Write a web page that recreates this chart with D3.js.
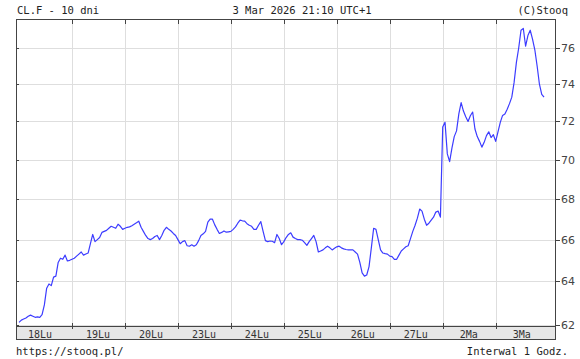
<!DOCTYPE html>
<html>
<head>
<meta charset="utf-8">
<script src="https://cdn.jsdelivr.net/npm/d3@7"></script>
<style>
  body { margin: 0; background: #fff; }
  svg { display: block; }
</style>
</head>
<body>
<div id="container"></div>
<script>
// ------ Data ------
const dayLabels = ['18Lu', '19Lu', '20Lu', '23Lu', '24Lu', '25Lu', '26Lu', '27Lu', '2Ma', '3Ma'];
const yTicks = [62, 64, 66, 68, 70, 72, 74, 76];

// hourly closes, one row per session
const day1 = [62.1, 62.2, 62.25, 62.3, 62.38, 62.43, 62.38, 62.33, 62.35, 62.33, 62.45, 62.9, 63.68, 63.88, 63.8, 64.2, 64.25, 64.9, 65.1, 65.05, 65.25, 64.97, 65.0];
const day2 = [65.05, 65.1, 65.2, 65.3, 65.4, 65.25, 65.3, 65.35, 65.8, 66.25, 65.9, 66.0, 66.1, 66.35, 66.4, 66.45, 66.55, 66.65, 66.6, 66.55, 66.75, 66.65, 66.5];
const day3 = [66.55, 66.6, 66.62, 66.68, 66.75, 66.82, 66.9, 66.6, 66.4, 66.2, 66.05, 66.0, 66.05, 66.15, 66.2, 66.0, 66.2, 66.45, 66.6, 66.5, 66.42, 66.3, 66.2];
const day4 = [66.0, 65.8, 65.9, 65.95, 65.7, 65.68, 65.75, 65.68, 65.75, 65.95, 66.2, 66.28, 66.4, 66.85, 67.0, 67.0, 66.72, 66.5, 66.3, 66.35, 66.42, 66.36, 66.38];
const day5 = [66.4, 66.5, 66.62, 66.8, 66.95, 66.92, 66.9, 66.78, 66.7, 66.65, 66.5, 66.5, 66.7, 66.88, 66.4, 65.95, 65.9, 65.93, 65.92, 65.85, 66.25, 66.05, 65.75];
const day6 = [65.9, 66.1, 66.25, 66.33, 66.12, 66.05, 66.0, 66.0, 65.97, 65.85, 65.72, 65.9, 66.05, 66.2, 65.9, 65.4, 65.45, 65.5, 65.6, 65.68, 65.6, 65.5, 65.58];
const day7 = [65.65, 65.68, 65.6, 65.55, 65.52, 65.5, 65.5, 65.5, 65.4, 65.3, 64.9, 64.4, 64.25, 64.3, 64.7, 65.6, 66.55, 66.5, 66.0, 65.5, 65.35, 65.32, 65.3];
const day8 = [65.2, 65.18, 65.05, 65.05, 65.25, 65.45, 65.55, 65.65, 65.7, 66.05, 66.4, 66.7, 67.05, 67.5, 67.4, 67.0, 66.7, 66.8, 66.95, 67.1, 67.35, 67.4, 67.1];
const day9 = [71.7, 71.95, 70.3, 69.9, 70.6, 71.2, 71.5, 72.4, 73.0, 72.55, 72.25, 72.0, 72.3, 72.5, 71.6, 71.2, 70.95, 70.65, 70.9, 71.25, 71.45, 71.15, 71.3];
const day10 = [70.95, 71.45, 71.95, 72.32, 72.4, 72.65, 72.95, 73.3, 74.1, 75.2, 76.0, 77.0, 77.1, 76.1, 76.7, 77.0, 76.5, 75.9, 75.0, 74.0, 73.45, 73.3];

const sessions = [day1, day2, day3, day4, day5, day6, day7, day8, day9, day10];
const prices = sessions.flat();

// ------ Global Values ------
const width = 580,
  height = 359;
const plotLeft = 16, plotRight = 556, plotTop = 19.5, plotBottom = 326, stripBottom = 340;
const barsPerDay = 23;

const svg = d3.select('#container').append('svg')
  .attr('width', width)
  .attr('height', height)
  .style('font-family', "'DejaVu Sans Mono', monospace");

const x = d3.scaleLinear()
  .domain([0, barsPerDay * 10])
  .range([19.04, 19.04 + 52.96 * 10]);

const y = d3.scaleLog()
  .domain([62, 76])
  .range([324.5, 48]);

// day boundaries (start index of every session after the first)
const bounds = d3.range(1, sessions.length).map(k => k * barsPerDay);

// ------ Grid ------
svg.append('rect')
  .attr('x', plotLeft).attr('y', plotBottom)
  .attr('width', plotRight - plotLeft).attr('height', stripBottom - plotBottom)
  .attr('fill', '#e6e6e6');

const grid = svg.append('g')
  .attr('stroke', '#dedede')
  .attr('shape-rendering', 'crispEdges');

grid.selectAll('.hgrid').data(yTicks)
  .enter().append('line')
  .attr('x1', plotLeft).attr('x2', plotRight)
  .attr('y1', d => Math.round(y(d)) + 0.5)
  .attr('y2', d => Math.round(y(d)) + 0.5);

grid.selectAll('.vgrid').data(bounds)
  .enter().append('line')
  .attr('x1', d => Math.round(x(d)) + 0.5)
  .attr('x2', d => Math.round(x(d)) + 0.5)
  .attr('y1', plotTop).attr('y2', plotBottom);

// ------ Ticks ------
const ticks = svg.append('g')
  .attr('stroke', '#444')
  .attr('shape-rendering', 'crispEdges');

ticks.selectAll('.ytickR').data(yTicks)
  .enter().append('line')
  .attr('x1', plotRight).attr('x2', plotRight + 4)
  .attr('y1', d => Math.round(y(d)) + 0.5)
  .attr('y2', d => Math.round(y(d)) + 0.5);

ticks.selectAll('.ytickL').data(yTicks)
  .enter().append('line')
  .attr('x1', plotLeft).attr('x2', plotLeft + 3)
  .attr('y1', d => Math.round(y(d)) + 0.5)
  .attr('y2', d => Math.round(y(d)) + 0.5);

ticks.selectAll('.xtickT').data(bounds)
  .enter().append('line')
  .attr('x1', d => Math.round(x(d)) + 0.5)
  .attr('x2', d => Math.round(x(d)) + 0.5)
  .attr('y1', plotTop).attr('y2', plotTop + 4);

ticks.selectAll('.xtickB').data(bounds)
  .enter().append('line')
  .attr('x1', d => Math.round(x(d)) + 0.5)
  .attr('x2', d => Math.round(x(d)) + 0.5)
  .attr('y1', plotBottom - 3).attr('y2', plotBottom + 3);

// ------ Price line ------
svg.append('clipPath').attr('id', 'plot-clip')
  .append('rect')
  .attr('x', plotLeft).attr('y', plotTop)
  .attr('width', plotRight - plotLeft).attr('height', plotBottom - plotTop);

const line = d3.line()
  .x((d, i) => x(i))
  .y(d => y(d));

svg.append('path')
  .datum(prices)
  .attr('clip-path', 'url(#plot-clip)')
  .attr('fill', 'none')
  .attr('stroke', '#3c3cff')
  .attr('stroke-width', 1.2)
  .attr('stroke-linejoin', 'round')
  .attr('d', line);

// ------ Frame ------
svg.append('rect')
  .attr('x', plotLeft + 0.5).attr('y', plotTop)
  .attr('width', plotRight - plotLeft - 1).attr('height', stripBottom - plotTop - 0.5)
  .attr('fill', 'none')
  .attr('stroke', '#444')
  .attr('shape-rendering', 'crispEdges');

svg.append('line')
  .attr('x1', plotLeft).attr('x2', plotRight)
  .attr('y1', plotBottom + 0.5).attr('y2', plotBottom + 0.5)
  .attr('stroke', '#444')
  .attr('shape-rendering', 'crispEdges');

// ------ Labels ------
svg.append('g').selectAll('.ylab').data(yTicks)
  .enter().append('text')
  .attr('x', plotRight + 5)
  .attr('y', d => y(d) + 4)
  .style('font-family', "'DejaVu Sans', sans-serif")
  .style('font-size', '11px')
  .attr('fill', '#444')
  .text(d => d);

svg.append('g').selectAll('.xlab').data(dayLabels)
  .enter().append('text')
  .attr('x', (d, i) => i === 0 ? 40 : x(i * barsPerDay + 11.3))
  .attr('y', 337.5)
  .attr('text-anchor', 'middle')
  .style('font-size', '10px')
  .attr('fill', '#333')
  .text(d => d);

const texts = [
  { t: 'CL.F - 10 dni', x: 17, y: 14, a: 'start' },
  { t: '3 Mar 2026 21:10 UTC+1', x: 302, y: 14, a: 'middle' },
  { t: '(C)Stooq', x: 568, y: 14, a: 'end' },
  { t: 'https://stooq.pl/', x: 16, y: 355, a: 'start' },
  { t: 'Interwal 1 Godz.', x: 568, y: 355, a: 'end' }
];

svg.append('g').selectAll('.info').data(texts)
  .enter().append('text')
  .attr('x', d => d.x)
  .attr('y', d => d.y)
  .attr('text-anchor', d => d.a)
  .style('font-size', '10.5px')
  .attr('fill', '#222')
  .text(d => d.t);
</script>
</body>
</html>
